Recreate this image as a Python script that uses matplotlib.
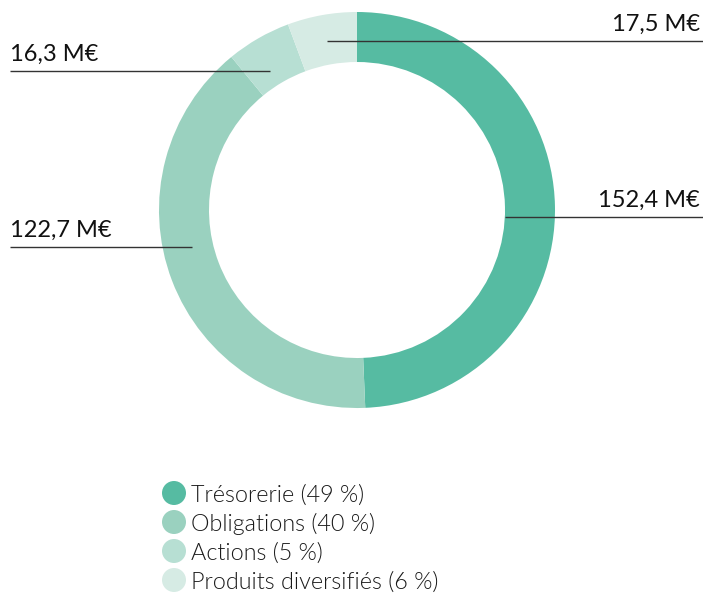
import matplotlib.pyplot as plt
from matplotlib.patches import Circle

categories = ["Trésorerie", "Obligations", "Actions", "Produits diversifiés"]
values = [152.4, 122.7, 16.3, 17.5]
percents = [49, 40, 5, 6]
value_labels = ["152,4 M€", "122,7 M€", "16,3 M€", "17,5 M€"]
colors = ["#56BBA2", "#9AD1BF", "#B7DFD3", "#D6EBE4"]

W, H = 703, 593
fig = plt.figure(figsize=(W / 100, H / 100), dpi=100)
ax = fig.add_axes([0, 0, 1, 1])

# donut, pixel coords (y measured from bottom)
cx, cy, r = 357, H - 210, 198
ax.pie(values, colors=colors, startangle=90, counterclock=False,
       radius=r, center=(cx, cy), frame=True,
       wedgeprops=dict(width=50, linewidth=0))

ax.set_xlim(0, W)
ax.set_ylim(0, H)
ax.set_aspect("equal")
ax.axis("off")

# leader lines + value labels: (label idx, line x0, x1, line y, text x, ha)
leaders = [
    (0, 505, 703, 217, 700, "right"),
    (1, 10, 192, 247, 10, "left"),
    (2, 10, 270, 71, 10, "left"),
    (3, 327, 703, 41, 700, "right"),
]
for i, x0, x1, y, tx, ha in leaders:
    ax.plot([x0, x1], [H - y, H - y], color="#333333", lw=1, solid_capstyle="butt")
    ax.text(tx, H - y + 6, value_labels[i], ha=ha, va="bottom",
            fontsize=17, family="Lato", color="#111111")

# legend
for i, (name, p) in enumerate(zip(categories, percents)):
    y = H - (493 + 29 * i)
    ax.add_patch(Circle((174, y), 12, color=colors[i], lw=0))
    ax.text(191, y - 2, f"{name} ({p} %)", ha="left", va="center",
            fontsize=16.8, family="Lato", fontweight=300, color="#1a1a1a")

fig.savefig("out.png", dpi=100)
